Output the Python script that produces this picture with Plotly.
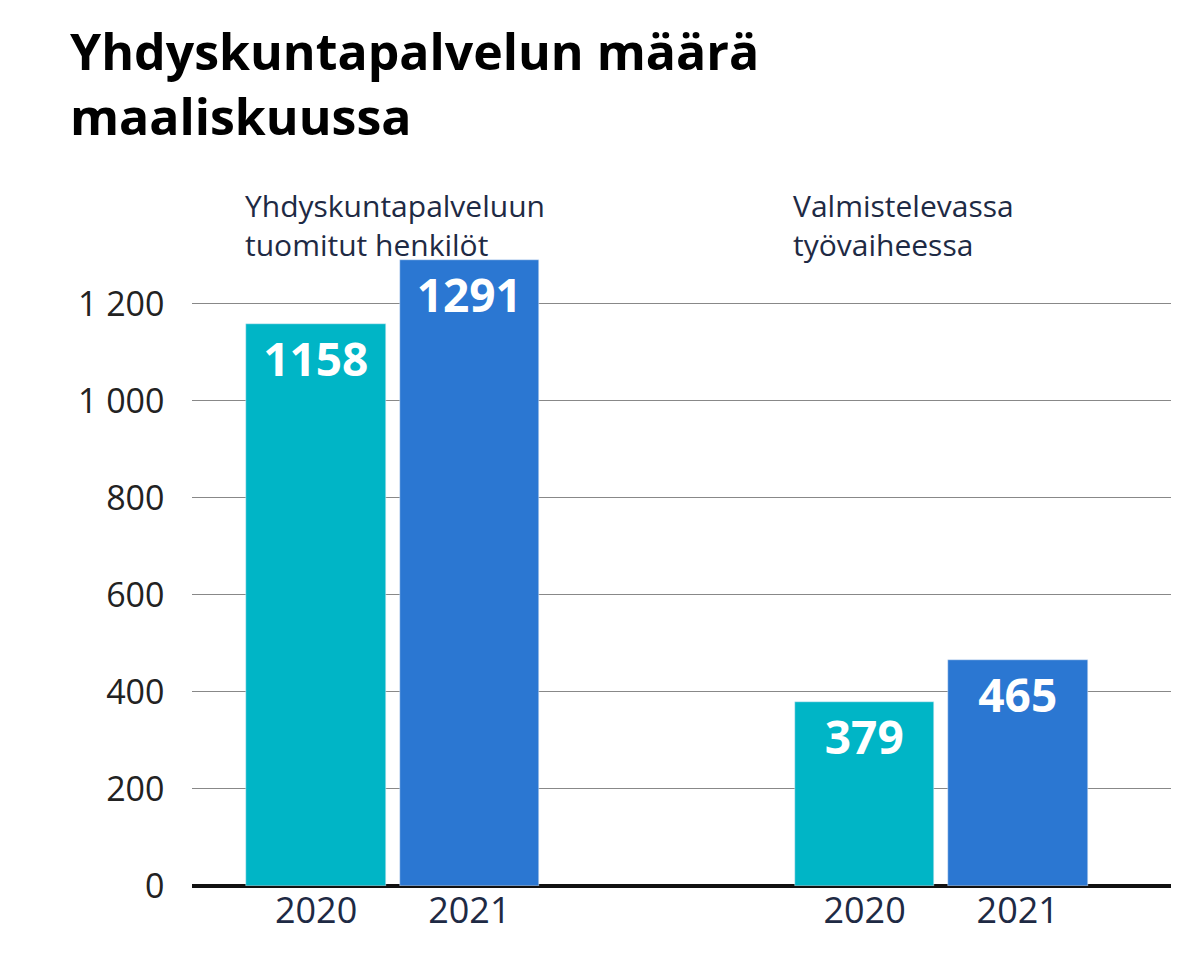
import plotly.graph_objects as go

groups = ["Yhdyskuntapalveluun<br>tuomitut henkilöt", "Valmistelevassa<br>työvaiheessa"]
years = ["2020", "2021"]
values = {"2020": [1158, 379], "2021": [1291, 465]}
colors = {"2020": "#00B5C6", "2021": "#2B77D2"}
gap = 3.58

fig = go.Figure()
ticks, ticktext = [], []
for j, yr in enumerate(years):
    xs = [i * gap + j for i in range(len(groups))]
    ticks += xs; ticktext += [yr] * len(xs)
    fig.add_trace(go.Bar(x=xs, y=values[yr], width=0.91, marker_color=colors[yr],
                         text=values[yr], texttemplate="%{y:d}", textposition="inside",
                         insidetextanchor="end",
                         textfont=dict(family="Open Sans", size=46, color="white", weight="bold"),
                         showlegend=False))

for i, g in enumerate(groups):
    fig.add_annotation(x=i * gap - 0.48, y=1, xref="x", yref="paper", yshift=68, text=g,
                       showarrow=False, xanchor="left", yanchor="top", align="left",
                       font=dict(family="Open Sans", size=30, color="#1e2a44"))

fig.add_annotation(x=60/1199, y=1, xref="paper", yref="paper", yshift=236, xanchor="left",
                   yanchor="top", align="left", showarrow=False,
                   text="<b>Yhdyskuntapalvelun määrä<br>maaliskuussa</b>",
                   font=dict(family="Open Sans", size=50, color="black"))
fig.layout.annotations[-1].xref = "paper"

fig.update_layout(
    width=1199, height=967, plot_bgcolor="white", paper_bgcolor="white",
    margin=dict(l=184, r=36, t=243, b=89), separators=", ",
    xaxis=dict(range=[-0.81, 5.58], tickvals=ticks, ticktext=ticktext, showgrid=False,
               tickfont=dict(family="Open Sans", size=36, color="#1e2a44"), ticks=""),
    yaxis=dict(range=[0, 1309], dtick=200, tickformat=",d", gridcolor="#888", gridwidth=1,
               zeroline=True, zerolinecolor="#111", zerolinewidth=4,
               tickfont=dict(family="Open Sans", size=34, color="#222"), ticksuffix="   "),
    bargap=0,
)
# title annotation in container coords
fig.layout.annotations[-1].update(xref="paper", x=(60-184)/979)
fig.write_html("out.html")
